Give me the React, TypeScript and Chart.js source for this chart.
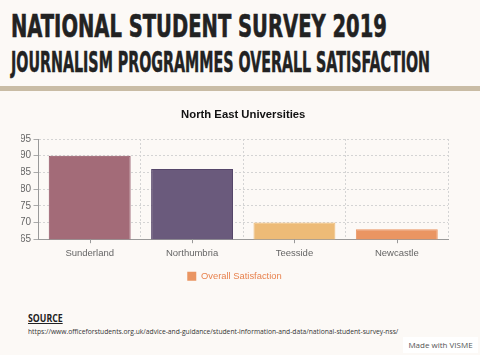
import React, { useEffect, useLayoutEffect, useRef } from "react";
import { Chart, registerables } from "chart.js";

Chart.register(...registerables);

const categories = ["Sunderland", "Northumbria", "Teesside", "Newcastle"];
const satisfaction = [90, 86, 70, 68];
const barColors = ["#a36b78", "#6a5a7c", "#edbb77", "#ea9562"];
const barBorders = ["#8e4d5e", "#55466a", "#edbb77", "#ea9562"];
const yTicks = [65, 70, 75, 80, 85, 90, 95];
const chartTitle = "North East Universities";
const seriesName = "Overall Satisfaction";

const BG = "#fcf9f6";
const SANS = "'Liberation Sans', Arial, sans-serif";

function FitText({
  text,
  width,
  style,
}: {
  text: string;
  width: number;
  style: React.CSSProperties;
}) {
  const ref = useRef<HTMLDivElement | null>(null);
  useLayoutEffect(() => {
    const el = ref.current;
    if (!el) return;
    el.style.transform = "none";
    const w = el.scrollWidth;
    if (w > 0) el.style.transform = `scaleX(${width / w})`;
  }, [text, width]);
  return (
    <div
      ref={ref}
      style={{
        position: "absolute",
        whiteSpace: "nowrap",
        display: "inline-block",
        transformOrigin: "left top",
        ...style,
      }}
    >
      {text}
    </div>
  );
}

const chartTitlePlugin = {
  id: "centeredTitle",
  afterDraw(chart: any) {
    const { ctx, chartArea } = chart;
    ctx.save();
    ctx.font = `bold 11.3px ${SANS}`;
    ctx.fillStyle = "#111";
    ctx.textAlign = "center";
    ctx.textBaseline = "middle";
    ctx.fillText(chartTitle, (chartArea.left + chartArea.right) / 2, 15);
    ctx.restore();
  },
};

const centerTicksPlugin = {
  id: "centerTicks",
  afterDraw(chart: any) {
    const { ctx, chartArea } = chart;
    const xs = chart.scales.x;
    ctx.save();
    ctx.strokeStyle = "#999";
    ctx.lineWidth = 1;
    ctx.beginPath();
    for (let i = 0; i < categories.length; i++) {
      const x = Math.round(xs.getPixelForValue(i)) + 0.5;
      ctx.moveTo(x, chartArea.bottom);
      ctx.lineTo(x, chartArea.bottom + 4);
    }
    ctx.stroke();
    ctx.restore();
  },
};

export default function App() {
  const ref = useRef<HTMLCanvasElement | null>(null);

  useEffect(() => {
    if (!ref.current) return;
    const chart = new Chart(ref.current, {
      type: "bar",
      data: {
        labels: categories,
        datasets: [
          {
            label: seriesName,
            data: satisfaction,
            backgroundColor: barColors,
            borderColor: barBorders,
            borderWidth: 1,
            barPercentage: 0.8,
            categoryPercentage: 1,
          },
        ],
      },
      options: {
        animation: false,
        responsive: false,
        maintainAspectRatio: false,
        layout: { padding: { left: 21, right: 32, top: 39, bottom: 0 } },
        plugins: {
          title: { display: false },
          legend: {
            display: true,
            position: "bottom",
            labels: {
              color: "#e8834f",
              boxWidth: 9,
              boxHeight: 9,
              padding: 10,
              font: { family: SANS, size: 9.4 },
              generateLabels: () => [
                {
                  text: seriesName,
                  fillStyle: "#ea9562",
                  strokeStyle: "#ea9562",
                  lineWidth: 0,
                  fontColor: "#e8834f",
                  datasetIndex: 0,
                },
              ],
            },
          },
          tooltip: { enabled: false },
        },
        scales: {
          x: {
            grid: { color: "#d4d4d4", drawTicks: true, tickLength: 5, tickColor: "rgba(0,0,0,0)" },
            border: { color: "#999", width: 1, dash: [2, 2] },
            ticks: { color: "#666", font: { family: SANS, size: 9.5 }, padding: 3 },
          },
          y: {
            min: 65,
            max: 95,
            afterBuildTicks: (axis: any) => {
              axis.ticks = yTicks.map((v) => ({ value: v }));
            },
            afterFit: (axis: any) => {
              axis.width = 17.5;
            },
            grid: { color: "#d4d4d4", tickLength: 5, tickColor: "#aaa" },
            border: { color: "#999", width: 1, dash: [2, 2] },
            ticks: { color: "#666", autoSkip: false, font: { family: SANS, size: 10 }, padding: 2.5 },
          },
        },
      },
      plugins: [chartTitlePlugin, centerTicksPlugin],
    });
    return () => chart.destroy();
  }, []);

  return (
    <div style={{ position: "fixed", left: 0, top: 0, width: 480, height: 355, background: BG, overflow: "hidden" }}>
      <FitText
        text="NATIONAL STUDENT SURVEY 2019"
        width={376}
        style={{
          left: 11,
          top: 6,
          fontFamily: "'DejaVu Sans Condensed', 'DejaVu Sans', sans-serif",
          fontWeight: 700,
          fontSize: 32,
          color: "#222",
          lineHeight: "40px",
          WebkitTextStroke: "0.6px #222",
        }}
      />
      <FitText
        text="JOURNALISM PROGRAMMES OVERALL SATISFACTION"
        width={419}
        style={{
          left: 11,
          top: 45,
          fontFamily: "'DejaVu Sans Condensed', 'DejaVu Sans', sans-serif",
          fontWeight: 700,
          fontSize: 28,
          color: "#222",
          lineHeight: "36px",
          WebkitTextStroke: "0.5px #222",
        }}
      />
      <div style={{ position: "absolute", left: 0, top: 86, width: 480, height: 5, background: "#c9bca5" }} />
      <canvas ref={ref} width={480} height={191} style={{ position: "absolute", left: 0, top: 100, width: 480, height: 191 }} />
      <FitText
        text="SOURCE"
        width={35}
        style={{
          left: 28,
          top: 311,
          fontFamily: "'Open Sans', sans-serif",
          fontWeight: 700,
          fontSize: 10,
          lineHeight: "14px",
          color: "#222",
          textDecoration: "underline",
        }}
      />
      <FitText
        text="https://www.officeforstudents.org.uk/advice-and-guidance/student-information-and-data/national-student-survey-nss/"
        width={370}
        style={{
          left: 28,
          top: 327,
          fontFamily: "'Open Sans', sans-serif",
          fontSize: 7,
          lineHeight: "10px",
          color: "#333",
        }}
      />
      <div
        style={{
          position: "absolute",
          left: 403,
          top: 337,
          width: 75,
          height: 16,
          background: "#ffffff",
          fontFamily: "'Open Sans', sans-serif",
          fontSize: 8,
          color: "#555",
          lineHeight: "16px",
          textAlign: "center",
        }}
      >
        Made with VISME
      </div>
    </div>
  );
}
